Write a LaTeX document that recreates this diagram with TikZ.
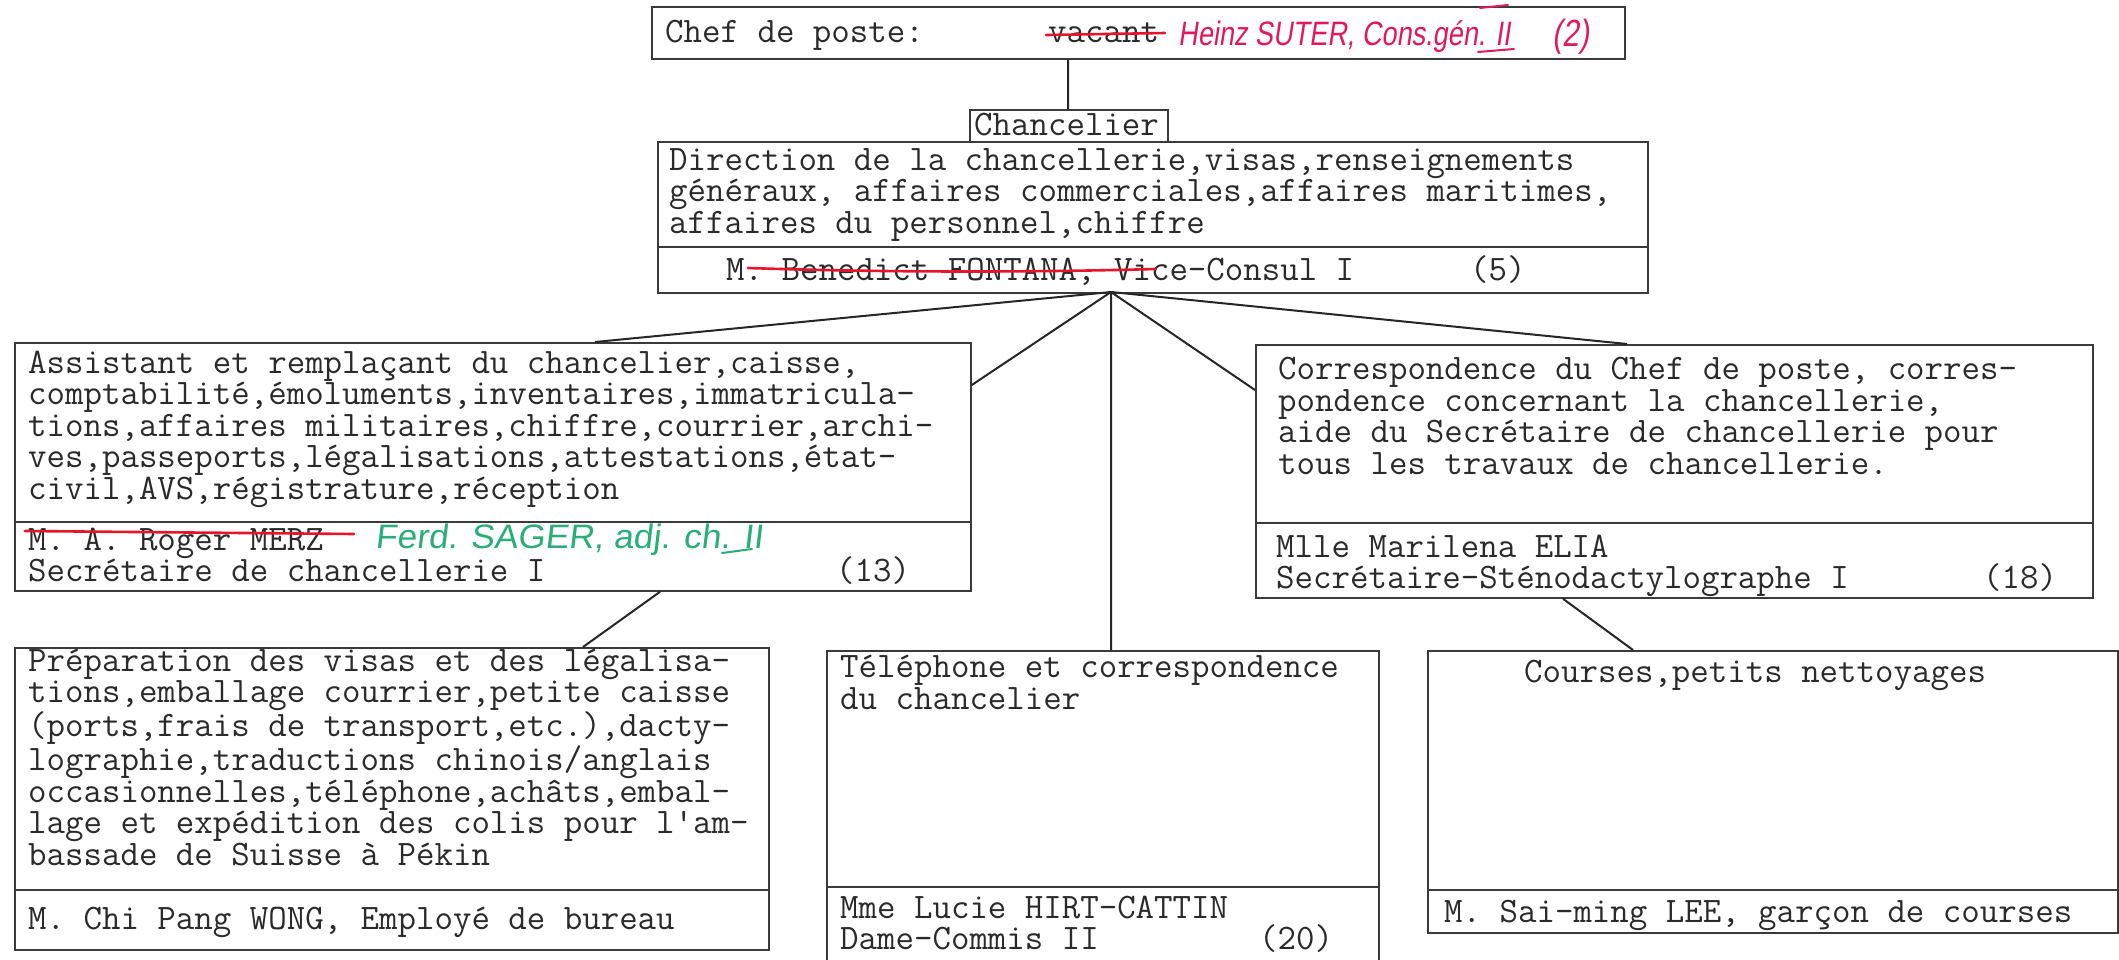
\documentclass[tikz,border=0pt]{standalone}
\usepackage{fontspec}
\newfontfamily\hand[FakeStretch=0.8,FakeSlant=0.15]{Liberation Sans}
\newfontfamily\handg[FakeStretch=1.04,FakeSlant=0.12]{Liberation Sans}
\newcommand\tw{\fontsize{36pt}{31.5pt}\selectfont\ttfamily}
\definecolor{inkc}{HTML}{2A2A2A}
\definecolor{linec}{HTML}{3A3A3A}
\definecolor{redc}{HTML}{E8142A}
\definecolor{redh}{HTML}{E3185A}
\definecolor{greenh}{HTML}{2AAE78}
\tikzset{
  box/.style={draw=linec, line width=1.8bp, inner sep=0pt, anchor=north west},
  divline/.style={draw=linec, line width=1.8bp},
  conn/.style={draw=black!85, line width=2bp},
  tt/.style={font=\tw, inner sep=0pt, anchor=base west, align=left, text=inkc},
  ttl/.style={font=\tw, inner sep=0pt, anchor=base west, text=inkc, text height=21pt, text depth=7pt},
  strike/.style={draw=redc, line width=2.6bp, line cap=round},
  redhand/.style={font={\hand\fontsize{34pt}{34pt}\selectfont}, text=redh, inner sep=0pt, anchor=base west},
  greenhand/.style={font={\handg\fontsize{34pt}{34pt}\selectfont}, text=greenh, inner sep=0pt, anchor=base west},
}
\begin{document}
\begin{tikzpicture}[x=1bp,y=-1bp]
\useasboundingbox (0,0) rectangle (2119,960);
\clip (0,0) rectangle (2119,960);

% ---- boxes ----
\node[box, minimum width=973bp, minimum height=52bp] (chef) at (651,6) {};
\node[box, minimum width=198bp, minimum height=32bp] (clabel) at (969,109) {};
\node[box, minimum width=990bp, minimum height=151bp] (main) at (657,141) {};
\node[box, minimum width=956bp, minimum height=248bp] (assist) at (14,342) {};
\node[box, minimum width=837bp, minimum height=253bp] (corr) at (1255,344) {};
\node[box, minimum width=754bp, minimum height=302bp] (prep) at (14,647) {};
\node[box, minimum width=552bp, minimum height=330bp] (tel) at (826,650) {};
\node[box, minimum width=690bp, minimum height=282bp] (courses) at (1427,650) {};

% ---- dividers ----
\draw[divline] (657,247) -- (1647,247);
\draw[divline] (14,522) -- (970,522);
\draw[divline] (1255,523) -- (2092,523);
\draw[divline] (14,890) -- (768,890);
\draw[divline] (826,887) -- (1378,887);
\draw[divline] (1427,890) -- (2117,890);

% ---- connectors ----
\coordinate (fan) at (1111,292);
\draw[conn] ([xshift=417bp]chef.south west) -- ([xshift=99bp]clabel.north west);
\draw[conn] (fan) -- ([xshift=581bp]assist.north west);
\draw[conn] (fan) -- ([yshift=-43bp]assist.north east);
\draw[conn] (fan) -- ([xshift=285bp]tel.north west);
\draw[conn] (fan) -- ([yshift=-46bp]corr.north west);
\draw[conn] (fan) -- ([xshift=372bp]corr.north west);
\draw[conn] ([xshift=646bp]assist.south west) -- ([xshift=569bp]prep.north west);
\draw[conn] ([xshift=308bp]corr.south west) -- ([xshift=206bp]courses.north west);

% ---- top box ----
\node[ttl] (cheft) at (665,42) {Chef de poste:};
\node[ttl] (vac) at (1048,42) {vacant};
\draw[strike] (1046,35) -- (1165,33);
\node[redhand] (suter) at (1178,45) {Heinz SUTER, Cons.gén. II};
\node[redhand, font={\hand\fontsize{38pt}{38pt}\selectfont}] (two) at (1552,46) {(2)};
\draw[draw=redh, line width=2bp, line cap=round] (1478,52) -- (1514,49);
\draw[draw=redh, line width=2bp, line cap=round] (1480,8) -- (1508,5);

% ---- chancelier ----
\node[ttl] (ct) at (974,135) {Chancelier};
\node[tt] (mt) at (669,233) {Direction de la chancellerie,visas,renseignements\\g\'en\'eraux, affaires commerciales,affaires maritimes,\\affaires du personnel,chiffre};
\node[ttl] (mn) at (726,280) {M. Benedict FONTANA, Vice-Consul I};
\node[ttl] (m5) at (1470,280) {(5)};
\draw[strike] (748,268) .. controls (900,273) and (1050,272) .. (1155,269);

% ---- assistant ----
\node[tt] (at) at (28,499) {Assistant et rempla\c{c}ant du chancelier,caisse,\\comptabilit\'e,\'emoluments,inventaires,immatricula-\\tions,affaires militaires,chiffre,courrier,archi-\\ves,passeports,l\'egalisations,attestations,\'etat-\\civil,AVS,r\'egistrature,r\'eception};
\node[ttl] (an1) at (28,550) {M. A. Roger MERZ};
\node[ttl] (an2) at (28,581) {Secr\'etaire de chancellerie I};
\node[ttl] (a13) at (836,581) {(13)};
\draw[strike] (25,531) -- (354,534);
\node[greenhand] (sager) at (375,548) {Ferd. SAGER, adj. ch. II};
\draw[draw=greenh, line width=2bp, line cap=round] (722,553) -- (752,549);

% ---- correspondence ----
\node[tt] (rt) at (1278,474) {Correspondence du Chef de poste, corres-\\pondence concernant la chancellerie,\\aide du Secr\'etaire de chancellerie pour\\tous les travaux de chancellerie.};
\node[ttl] (rn1) at (1276,557) {Mlle Marilena ELIA};
\node[ttl] (rn2) at (1276,588) {Secr\'etaire-St\'enodactylographe I};
\node[ttl] (r18) at (1983,588) {(18)};

% ---- preparation ----
\node[tt] (pt) at (28,865) {Pr\'eparation des visas et des l\'egalisa-\\tions,emballage courrier,petite caisse\\(ports,frais de transport,etc.),dacty-\\lographie,traductions chinois/anglais\\occasionnelles,t\'el\'ephone,ach\^ats,embal-\\lage et exp\'edition des colis pour l'am-\\bassade de Suisse \`a P\'ekin};
\node[ttl] (pn) at (28,929) {M. Chi Pang WONG, Employ\'e de bureau};

% ---- telephone ----
\node[tt] (tt1) at (840,709) {T\'el\'ephone et correspondence\\du chancelier};
\node[ttl] (tn1) at (840,918) {Mme Lucie HIRT-CATTIN};
\node[ttl] (tn2) at (840,949) {Dame-Commis II};
\node[ttl] (t20) at (1259,949) {(20)};

% ---- courses ----
\node[ttl] (ct1) at (1524,682) {Courses,petits nettoyages};
\node[ttl] (cn) at (1444,922) {M. Sai-ming LEE, gar\c{c}on de courses};
\end{tikzpicture}
\end{document}
